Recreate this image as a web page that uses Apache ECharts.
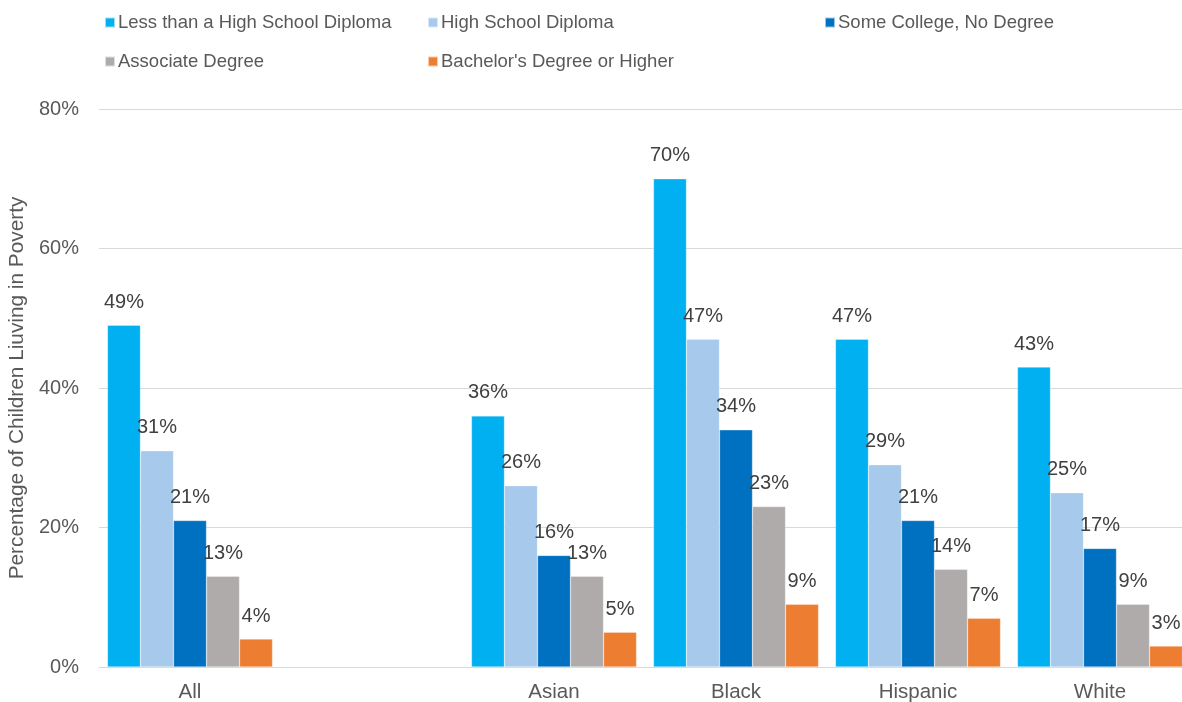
<!DOCTYPE html>
<html>
<head>
<meta charset="utf-8">
<script src="https://cdn.jsdelivr.net/npm/echarts@6/dist/echarts.min.js"></script>
<style>
  html, body { margin: 0; padding: 0; background: #fff; }
  #chart { width: 1182px; height: 702px; }
</style>
</head>
<body>
<div id="chart"></div>
<script>
// Child poverty rate by parental education, overall and by race/ethnicity
const categories = ['All', '', 'Asian', 'Black', 'Hispanic', 'White'];
const seriesNames = [
  'Less than a High School Diploma',
  'High School Diploma',
  'Some College, No Degree',
  'Associate Degree',
  "Bachelor's Degree or Higher"
];
const lessThanHS   = [49, '-', 36, 70, 47, 43];
const hsDiploma    = [31, '-', 26, 47, 29, 25];
const someCollege  = [21, '-', 16, 34, 21, 17];
const associate    = [13, '-', 13, 23, 14, 9];
const bachelors    = [4,  '-', 5,  9,  7,  3];
const yTicks = [0, 20, 40, 60, 80];

const values = [lessThanHS, hsDiploma, someCollege, associate, bachelors];
const colors = ['#00B0F0', '#A6C9EC', '#0070C0', '#AFABAB', '#ED7D31'];
const textColor = '#595959';
const labelColor = '#404040';
const font = 'Arial, "Liberation Sans", sans-serif';

// Legend entries laid out in fixed columns, two rows
const legendPos = [
  { left: 104, top: 13 },
  { left: 427, top: 13 },
  { left: 824, top: 13 },
  { left: 104, top: 52 },
  { left: 427, top: 52 }
];

const chart = echarts.init(document.getElementById('chart'));
chart.setOption({
  animation: false,
  color: colors,
  legend: seriesNames.map((name, i) => ({
    data: [name],
    left: legendPos[i].left,
    top: legendPos[i].top,
    padding: 0,
    icon: 'rect',
    itemWidth: 10,
    itemHeight: 10,
    itemGap: 0,
    textStyle: { color: textColor, fontSize: 18.5, fontFamily: font, padding: [0, 0, 0, -2] }
  })),
  // plot area runs past the right edge of the canvas
  grid: { left: 99, width: 1092, top: 109, bottom: 35, containLabel: false, outerBoundsMode: 'none' },
  xAxis: {
    type: 'category',
    data: categories,
    axisLine: { lineStyle: { color: '#D9D9D9', width: 1 } },
    axisTick: { show: false },
    axisLabel: { color: textColor, fontSize: 20.5, fontFamily: font, margin: 15 }
  },
  yAxis: {
    type: 'value',
    min: yTicks[0],
    max: yTicks[yTicks.length - 1],
    interval: yTicks[1] - yTicks[0],
    name: 'Percentage of Children Liuving in Poverty',
    nameLocation: 'middle',
    nameRotate: 90,
    nameGap: 70,
    nameTextStyle: { color: textColor, fontSize: 20.8, fontFamily: font },
    axisLine: { show: false },
    axisTick: { show: false },
    axisLabel: { color: textColor, fontSize: 20, fontFamily: font, margin: 20, formatter: '{value}%' },
    splitLine: { lineStyle: { color: '#D9D9D9', width: 1 } }
  },
  series: seriesNames.map((name, i) => ({
    name,
    type: 'bar',
    data: values[i],
    barGap: '0%',
    barCategoryGap: '9.3%',
    itemStyle: { color: colors[i], borderColor: 'rgba(255,255,255,0.6)', borderWidth: 0.5 },
    label: {
      show: true,
      position: 'top',
      distance: 13,
      formatter: p => p.value + '%',
      color: labelColor,
      fontSize: 20,
      fontFamily: font
    }
  }))
});
</script>
</body>
</html>
